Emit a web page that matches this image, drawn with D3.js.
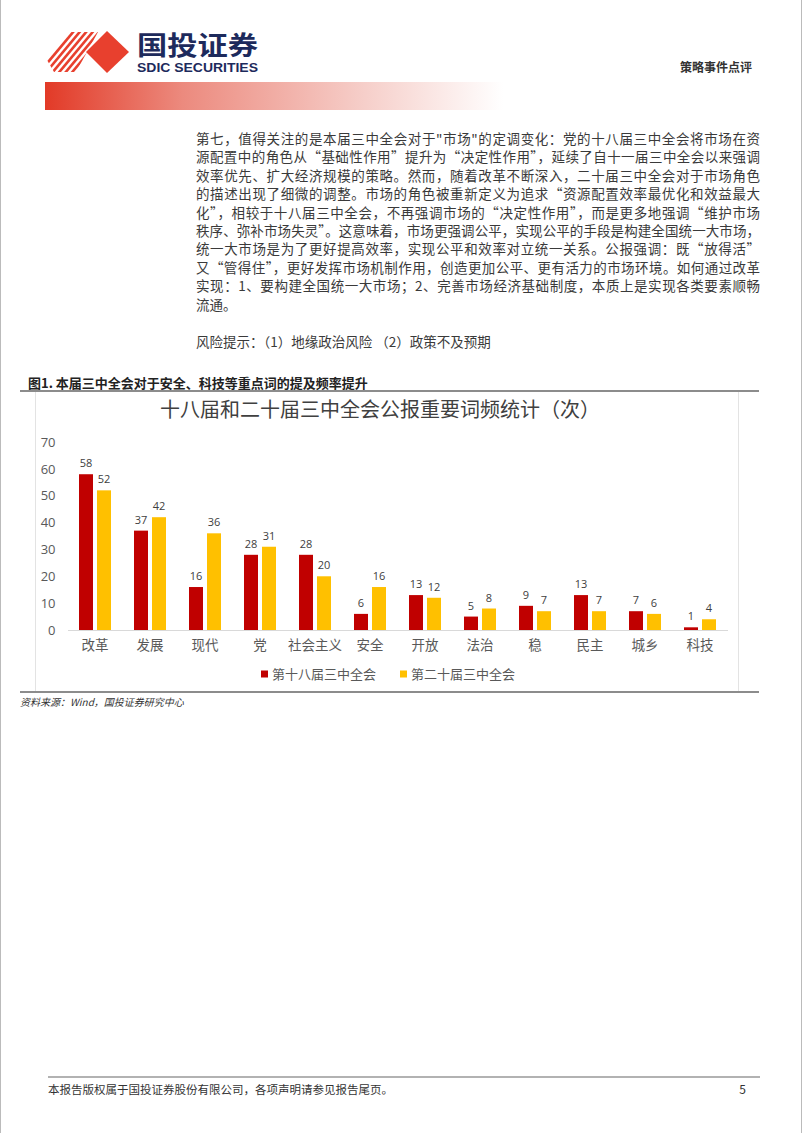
<!DOCTYPE html>
<html><head><meta charset="utf-8">
<script src="https://cdn.jsdelivr.net/npm/d3@7/dist/d3.min.js"></script>
<style>
html,body{margin:0;padding:0;background:#fff;}
svg{display:block;font-family:"Noto Sans CJK SC","Noto Sans",sans-serif;}
</style></head>
<body>
<svg id="page" width="802" height="1133"></svg>
<script>
// ---- data ----
const categories = ["改革","发展","现代","党","社会主义","安全","开放","法治","稳","民主","城乡","科技"];
const series18 = [58,37,16,28,28,6,13,5,9,13,7,1];
const series20 = [52,42,36,31,20,16,12,8,7,7,6,4];
const seriesNames = ["第十八届三中全会","第二十届三中全会"];
const seriesColors = ["#C00000","#FFC000"];
const yTicks = [0,10,20,30,40,50,60,70];
const chartTitle = "十八届和二十届三中全会公报重要词频统计（次）";
const figCaption = "图1. 本届三中全会对于安全、科技等重点词的提及频率提升";
const sourceNote = "资料来源：Wind，国投证券研究中心";
const bodyLines = [
 "第七，值得关注的是本届三中全会对于\"市场\"的定调变化：党的十八届三中全会将市场在资",
 "源配置中的角色从“基础性作用”提升为“决定性作用”，延续了自十一届三中全会以来强调",
 "效率优先、扩大经济规模的策略。然而，随着改革不断深入，二十届三中全会对于市场角色",
 "的描述出现了细微的调整。市场的角色被重新定义为追求“资源配置效率最优化和效益最大",
 "化”，相较于十八届三中全会，不再强调市场的“决定性作用”，而是更多地强调“维护市场",
 "秩序、弥补市场失灵”。这意味着，市场更强调公平，实现公平的手段是构建全国统一大市场，",
 "统一大市场是为了更好提高效率，实现公平和效率对立统一关系。公报强调：既“放得活”",
 "又“管得住”，更好发挥市场机制作用，创造更加公平、更有活力的市场环境。如何通过改革",
 "实现：1、要构建全国统一大市场；2、完善市场经济基础制度，本质上是实现各类要素顺畅",
 "流通。"
];
const riskLine = "风险提示：（1）地缘政治风险  （2）政策不及预期";
const footerText = "本报告版权属于国投证券股份有限公司，各项声明请参见报告尾页。";
const pageNo = "5";

const svg = d3.select("#page");
const defs = svg.append("defs");

// page edges
svg.append("line").attr("x1",0.5).attr("x2",0.5).attr("y1",0).attr("y2",1133).attr("stroke","#bbb");
svg.append("line").attr("x1",801.5).attr("x2",801.5).attr("y1",0).attr("y2",1133).attr("stroke","#bbb");

// ---- header ----
const grad = defs.append("linearGradient").attr("id","hg").attr("x1","0").attr("x2","1").attr("y1","0").attr("y2","0");
grad.append("stop").attr("offset","0").attr("stop-color","#e23a27");
grad.append("stop").attr("offset","0.3").attr("stop-color","#ec8a7e");
grad.append("stop").attr("offset","0.7").attr("stop-color","#f6cfca");
grad.append("stop").attr("offset","1").attr("stop-color","#ffffff");
svg.append("rect").attr("x",45).attr("y",82).attr("width",458).attr("height",28).attr("fill","url(#hg)");

// logo
const logoRed = "#e8402e";
defs.append("clipPath").attr("id","stripeClip").append("polygon")
  .attr("points","47,60 70,32 98,32 76,72 54,72");
const sg = svg.append("g").attr("clip-path","url(#stripeClip)");
for (let i=0;i<10;i++){
  const x0 = 30 + i*6.5;
  sg.append("line").attr("x1",x0).attr("y1",76).attr("x2",x0+40).attr("y2",28)
    .attr("stroke",logoRed).attr("stroke-width",2.6);
}
svg.append("polygon").attr("points","107,31 129,52 107,73 86,52").attr("fill",logoRed);
svg.append("text").attr("x",137).attr("y",55).attr("font-size",26).attr("font-weight",700)
  .attr("fill","#1d2a5c").attr("textLength",121).attr("lengthAdjust","spacingAndGlyphs").text("国投证券");
svg.append("text").attr("x",137).attr("y",72).attr("font-size",12.5).attr("font-weight",700)
  .attr("font-family","'Liberation Sans Narrow','Liberation Sans',sans-serif")
  .attr("fill","#1d2a5c").attr("textLength",121).attr("lengthAdjust","spacingAndGlyphs").text("SDIC SECURITIES");
svg.append("text").attr("x",752).attr("y",72).attr("text-anchor","end").attr("font-size",12)
  .attr("font-weight",700).attr("fill","#333").text("策略事件点评");

// ---- body text ----
const bodyG = svg.append("g").attr("font-size",13.5).attr("fill","#3a3a3a");
bodyLines.forEach((s,i)=>{
  const t = bodyG.append("text").attr("x",196).attr("y",144+i*18.4).text(s);
  if (i < bodyLines.length-1) t.attr("textLength",564).attr("lengthAdjust","spacing");
});
bodyG.append("text").attr("x",196).attr("y",347).text(riskLine);

// ---- figure caption ----
svg.append("text").attr("x",28).attr("y",388).attr("font-size",13).attr("font-weight",700)
  .attr("fill","#222").text(figCaption);
svg.append("line").attr("x1",20).attr("x2",759).attr("y1",391).attr("y2",391).attr("stroke","#666").attr("stroke-width",1.6);
svg.append("line").attr("x1",20).attr("x2",759).attr("y1",692).attr("y2",692).attr("stroke","#666").attr("stroke-width",1.6);
svg.append("line").attr("x1",35.5).attr("x2",35.5).attr("y1",392).attr("y2",691).attr("stroke","#e3e3e3");
svg.append("line").attr("x1",738.5).attr("x2",738.5).attr("y1",392).attr("y2",691).attr("stroke","#e3e3e3");
svg.append("text").attr("x",20).attr("y",706).attr("font-size",10).attr("font-style","italic")
  .attr("fill","#333").text(sourceNote);

// ---- chart ----
svg.append("text").attr("x",380).attr("y",417).attr("text-anchor","middle").attr("font-size",20)
  .attr("fill","#404040").text(chartTitle);

const x = d3.scaleBand().domain(categories).range([67.5,727.5]);
const x1 = d3.scaleBand().domain([0,1]).range([0,32]).paddingInner(4/18);
const y = d3.scaleLinear().domain([0,70]).range([630,442]);

const yAxis = svg.append("g").attr("transform","translate(67.5,0)")
  .call(d3.axisLeft(y).tickValues(yTicks).tickSize(0).tickPadding(12));
yAxis.select(".domain").remove();
yAxis.selectAll("text").attr("font-size",13).attr("fill","#595959")
  .attr("font-family","'Open Sans','Noto Sans',sans-serif");

const series = [series18, series20];
const groups = svg.append("g").selectAll("g").data(categories).join("g")
  .attr("transform",d=>`translate(${x(d)+x.bandwidth()/2-16},0)`);
groups.each(function(c,ci){
  const g = d3.select(this);
  series.forEach((s,si)=>{
    const v = s[ci];
    g.append("rect").attr("x",x1(si)).attr("width",x1.bandwidth())
      .attr("y",y(v)).attr("height",y(0)-y(v)).attr("fill",seriesColors[si]);
    g.append("text").attr("x",x1(si)+x1.bandwidth()/2).attr("y",y(v)-7)
      .attr("text-anchor","middle").attr("font-size",11).attr("fill","#404040")
      .attr("font-family","'Open Sans','Noto Sans',sans-serif").text(v);
  });
});

const xAxis = svg.append("g").attr("transform","translate(0,630)")
  .call(d3.axisBottom(x).tickSize(0).tickPadding(10));
xAxis.select(".domain").attr("stroke","#d9d9d9");
xAxis.selectAll("text").attr("font-size",13.5).attr("fill","#595959")
  .attr("font-family","'Noto Sans CJK SC',sans-serif");

// legend
const leg = svg.append("g");
const legX = [261,400];
seriesNames.forEach((n,i)=>{
  leg.append("rect").attr("x",legX[i]).attr("y",670.5).attr("width",7).attr("height",7).attr("fill",seriesColors[i]);
  leg.append("text").attr("x",legX[i]+11).attr("y",679).attr("font-size",13).attr("fill","#595959").text(n);
});

// ---- footer ----
svg.append("line").attr("x1",48).attr("x2",760).attr("y1",1077).attr("y2",1077).attr("stroke","#999").attr("stroke-width",1.5);
svg.append("text").attr("x",48).attr("y",1094).attr("font-size",11.5).attr("fill","#333").text(footerText);
svg.append("text").attr("x",746).attr("y",1094).attr("text-anchor","end").attr("font-size",12).attr("fill","#333").text(pageNo);
</script>
</body></html>
